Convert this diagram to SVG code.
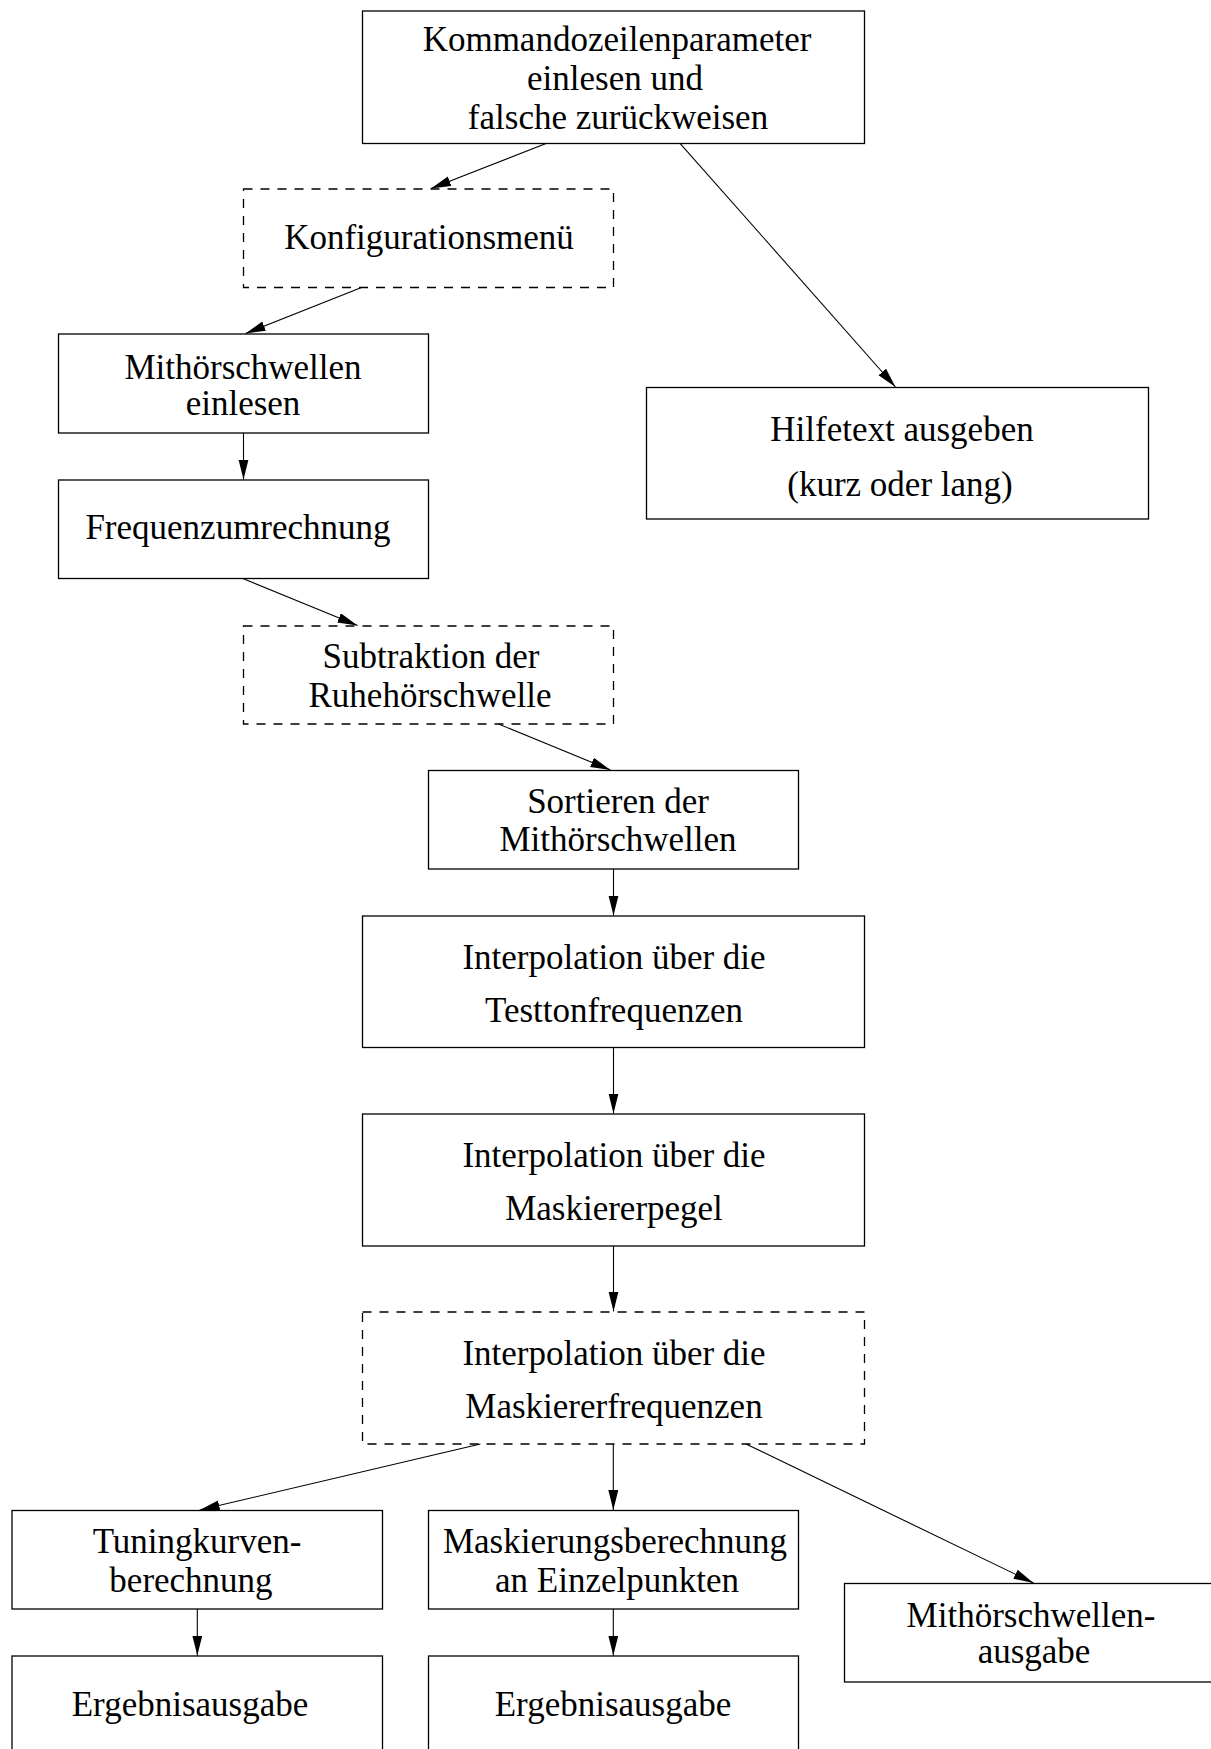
<svg xmlns="http://www.w3.org/2000/svg" width="1211" height="1749" viewBox="0 0 1211 1749">
<style>
.box{fill:none;stroke:#000;stroke-width:1.3}
.dash{fill:none;stroke:#000;stroke-width:1.3;stroke-dasharray:9 8}
.t{font-family:"Liberation Serif","Times New Roman",serif;font-size:35px;fill:#000;text-anchor:middle}
.c{stroke:#000;stroke-width:1.1;fill:none;marker-end:url(#ah)}
</style>
<defs>
<marker id="ah" markerUnits="userSpaceOnUse" markerWidth="21" markerHeight="11" refX="20" refY="5" orient="auto">
<path d="M0,0 L20,5 L0,10 z" fill="#000"/>
</marker>
</defs>
<rect width="1211" height="1749" fill="#fff"/>
<g id="connectors">
<line class="c" x1="546.7" y1="143.3" x2="431" y2="188.5"/>
<line class="c" x1="680" y1="143.3" x2="895.5" y2="387"/>
<line class="c" x1="361.5" y1="287.5" x2="245.5" y2="333.5"/>
<line class="c" x1="243.5" y1="433" x2="243.5" y2="479.5"/>
<line class="c" x1="242.8" y1="578.5" x2="357.5" y2="625.5"/>
<line class="c" x1="498.5" y1="724" x2="610.5" y2="770"/>
<line class="c" x1="613.5" y1="869" x2="613.5" y2="915.5"/>
<line class="c" x1="613.5" y1="1047.5" x2="613.5" y2="1113.5"/>
<line class="c" x1="613.5" y1="1246" x2="613.5" y2="1311.5"/>
<line class="c" x1="480.4" y1="1444" x2="199.7" y2="1510"/>
<line class="c" x1="613.3" y1="1444" x2="613.3" y2="1510"/>
<line class="c" x1="746" y1="1444" x2="1033.5" y2="1583"/>
<line class="c" x1="197.3" y1="1609" x2="197.3" y2="1655.5"/>
<line class="c" x1="613.3" y1="1609" x2="613.3" y2="1655.5"/>
</g>
<g id="n-kommando">
<rect class="box" x="362.5" y="11" width="502" height="132.5"/>
<text class="t" x="617" y="51">Kommandozeilenparameter</text>
<text class="t" x="615" y="90">einlesen und</text>
<text class="t" x="618" y="129">falsche zurückweisen</text>
</g>
<g id="n-konfig">
<rect class="dash" x="243.5" y="189" width="370" height="98.5"/>
<text class="t" x="429" y="249">Konfigurationsmenü</text>
</g>
<g id="n-mithoer-einlesen">
<rect class="box" x="58.5" y="334" width="370" height="99"/>
<text class="t" x="243" y="379">Mithörschwellen</text>
<text class="t" x="243" y="415">einlesen</text>
</g>
<g id="n-frequenz">
<rect class="box" x="58.5" y="480" width="370" height="98.5"/>
<text class="t" x="238" y="539">Frequenzumrechnung</text>
</g>
<g id="n-hilfe">
<rect class="box" x="646.5" y="387.5" width="502" height="131.5"/>
<text class="t" x="902" y="441">Hilfetext ausgeben</text>
<text class="t" x="900" y="496">(kurz oder lang)</text>
</g>
<g id="n-subtraktion">
<rect class="dash" x="243.5" y="626" width="370" height="98"/>
<text class="t" x="431" y="668">Subtraktion der</text>
<text class="t" x="430" y="707">Ruhehörschwelle</text>
</g>
<g id="n-sortieren">
<rect class="box" x="428.5" y="770.5" width="370" height="98.5"/>
<text class="t" x="618" y="813">Sortieren der</text>
<text class="t" x="618" y="851">Mithörschwellen</text>
</g>
<g id="n-testton">
<rect class="box" x="362.5" y="916" width="502" height="131.5"/>
<text class="t" x="614" y="969">Interpolation über die</text>
<text class="t" x="614" y="1022">Testtonfrequenzen</text>
</g>
<g id="n-pegel">
<rect class="box" x="362.5" y="1114" width="502" height="132"/>
<text class="t" x="614" y="1167">Interpolation über die</text>
<text class="t" x="614" y="1220">Maskiererpegel</text>
</g>
<g id="n-maskfreq">
<rect class="dash" x="362.5" y="1312" width="502" height="132"/>
<text class="t" x="614" y="1365">Interpolation über die</text>
<text class="t" x="614" y="1418">Maskiererfrequenzen</text>
</g>
<g id="n-tuning">
<rect class="box" x="12" y="1510.5" width="370.5" height="98.5"/>
<text class="t" x="197" y="1553">Tuningkurven-</text>
<text class="t" x="191" y="1592">berechnung</text>
</g>
<g id="n-maskierung">
<rect class="box" x="428.5" y="1510.5" width="370" height="98.5"/>
<text class="t" x="615" y="1553">Maskierungsberechnung</text>
<text class="t" x="617" y="1592">an Einzelpunkten</text>
</g>
<g id="n-mithoer-ausgabe">
<rect class="box" x="844.5" y="1583.5" width="380" height="98.5"/>
<text class="t" x="1031" y="1627">Mithörschwellen-</text>
<text class="t" x="1034" y="1663">ausgabe</text>
</g>
<g id="n-ergebnis1">
<rect class="box" x="12" y="1656" width="370.5" height="100"/>
<text class="t" x="190" y="1716">Ergebnisausgabe</text>
</g>
<g id="n-ergebnis2">
<rect class="box" x="428.5" y="1656" width="370" height="100"/>
<text class="t" x="613" y="1716">Ergebnisausgabe</text>
</g>
</svg>
